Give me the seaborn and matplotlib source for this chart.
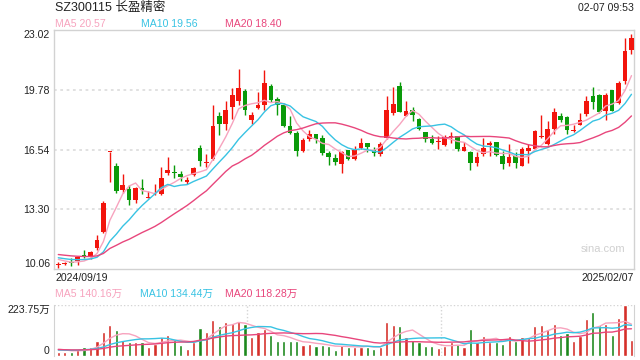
import matplotlib
matplotlib.use("Agg")
from matplotlib import pyplot as plt
import numpy as np
import pandas as pd
import seaborn as sns

# 日K数据 2024/09/19 - 2025/02/07
opens = [10.27, 10.31, 10.40, 10.47, 10.82, 10.69, 11.20, 12.07, 16.40, 15.66,
         14.34, 14.40, 13.82, 14.45, 13.93, 14.10, 14.14, 15.27, 15.30, 15.21,
         14.78, 15.18, 16.62, 15.82, 16.04, 18.34, 17.94, 18.84, 19.19, 19.71,
         18.16, 18.79, 18.97, 19.97, 19.28, 18.93, 17.81, 17.43, 16.44, 17.11,
         17.38, 17.16, 16.35, 16.08, 15.75, 16.51, 16.04, 16.62, 16.87, 16.51,
         16.31, 17.16, 18.52, 19.98, 18.37, 18.68, 18.19, 17.49, 17.09, 16.94,
         16.80, 17.20, 17.25, 16.48, 16.40, 15.81, 16.30, 16.77, 16.95, 16.19,
         15.81, 16.17, 15.66, 16.48, 16.58, 17.23, 16.86, 17.67, 18.34, 18.28,
         17.56, 17.89, 18.46, 19.44, 19.49, 18.61, 19.77, 19.06, 20.24, 21.95]
highs = [10.45, 10.42, 10.66, 10.75, 11.11, 11.05, 11.89, 13.77, 16.42, 15.81,
         15.21, 14.63, 14.49, 14.94, 14.27, 14.69, 15.57, 16.13, 15.72, 15.36,
         15.05, 15.60, 16.77, 16.29, 18.97, 18.57, 19.19, 19.87, 20.92, 19.84,
         18.57, 19.66, 20.85, 20.11, 19.37, 19.04, 18.34, 17.56, 17.16, 17.60,
         17.40, 17.34, 16.48, 16.30, 16.48, 16.52, 16.71, 17.16, 16.88, 16.67,
         16.95, 19.44, 19.93, 20.20, 19.15, 18.86, 18.25, 17.50, 17.34, 17.29,
         17.31, 17.51, 17.29, 16.95, 16.44, 16.40, 17.16, 16.98, 16.96, 16.44,
         16.84, 16.40, 16.66, 16.84, 17.61, 18.43, 18.10, 18.79, 18.52, 18.34,
         17.89, 18.52, 19.46, 19.93, 19.55, 19.59, 19.78, 20.27, 22.59, 22.80]
lows = [10.10, 10.25, 10.20, 10.26, 10.66, 10.62, 11.11, 12.02, 14.78, 14.18,
        14.18, 13.51, 13.64, 14.13, 13.91, 14.09, 14.09, 15.14, 14.99, 14.85,
        14.67, 15.08, 15.63, 15.57, 15.99, 17.34, 17.61, 18.21, 18.93, 18.39,
        17.92, 18.72, 18.70, 19.12, 18.43, 17.74, 17.38, 16.19, 16.40, 16.98,
        16.87, 16.26, 15.68, 15.72, 15.28, 15.97, 15.97, 16.58, 16.40, 16.17,
        16.17, 17.11, 18.39, 18.57, 18.34, 18.10, 17.61, 16.96, 16.84, 16.58,
        16.71, 16.89, 16.46, 16.44, 15.45, 15.66, 16.19, 16.17, 16.19, 15.50,
        15.66, 15.54, 15.63, 15.81, 16.55, 17.16, 16.80, 17.38, 18.03, 17.38,
        17.49, 17.85, 18.34, 18.75, 18.52, 18.16, 18.61, 19.01, 20.09, 21.74]
closes = [10.30, 10.33, 10.37, 10.69, 10.78, 10.98, 11.65, 13.64, 16.42, 14.31,
          14.63, 13.80, 14.45, 14.36, 13.96, 14.14, 14.99, 15.43, 15.27, 15.03,
          14.90, 15.54, 15.90, 15.85, 17.80, 17.92, 18.66, 19.49, 19.86, 18.70,
          18.39, 18.95, 20.15, 19.22, 18.97, 17.83, 17.43, 16.44, 17.07, 17.38,
          17.13, 16.35, 16.13, 15.86, 16.40, 16.04, 16.51, 16.87, 16.69, 16.37,
          16.84, 18.68, 19.01, 18.59, 18.61, 18.39, 17.67, 17.13, 16.91, 16.97,
          17.20, 17.23, 16.58, 16.67, 15.83, 16.13, 16.60, 16.89, 16.26, 15.75,
          16.13, 15.81, 16.58, 16.62, 17.52, 17.26, 17.65, 18.57, 18.14, 17.61,
          17.59, 18.14, 19.19, 19.12, 18.57, 19.48, 18.65, 20.15, 21.86, 22.59]
# 成交量(万手)
volumes = [15.2, 15.2, 15.2, 27.4, 38.1, 38.1, 65.4, 103.5, 133.9, 111.1,
           70.0, 60.9, 57.8, 57.8, 39.6, 50.2, 83.7, 91.3, 68.5, 47.2,
           28.9, 59.4, 123.3, 102.0, 156.8, 129.4, 147.6, 144.6, 153.7, 141.5,
           83.7, 102.0, 118.7, 91.3, 62.4, 65.4, 62.4, 65.4, 48.7, 51.7,
           42.6, 47.2, 42.6, 24.4, 47.2, 39.6, 39.6, 39.6, 39.6, 30.4,
           39.6, 147.6, 133.9, 129.4, 83.7, 70.0, 57.8, 42.6, 42.6, 33.5,
           42.6, 57.8, 51.7, 38.1, 115.7, 60.9, 88.3, 57.8, 57.8, 51.7,
           88.3, 62.4, 83.7, 83.7, 129.4, 133.9, 118.7, 138.5, 92.8, 100.5,
           65.4, 88.3, 161.3, 193.3, 133.9, 141.5, 92.8, 165.9, 223.75, 70.0]
# 区间之前的数据(估计, 只用于均线起点)
prev_closes = [11.10, 11.05, 11.15, 11.00, 10.98, 11.05, 10.95, 11.00, 10.92, 11.00,
               10.85, 10.80, 10.75, 10.72, 10.68, 10.75, 10.70, 10.60, 10.55]
prev_volumes = [30, 28, 32, 26, 29, 31, 27, 25, 30, 28,
                20, 18, 22, 19, 21, 30, 35, 28, 32]

price_ticks = [10.06, 13.30, 16.54, 19.78, 23.02]
vol_max = 223.75
start_date, end_date = '2024/09/19', '2025/02/07'

RED = '#f2140c'
GREEN = '#0a9a0a'
C_MA5 = '#f7a3be'
C_MA10 = '#38c3e3'
C_MA20 = '#e8467c'

df = pd.DataFrame({'idx': np.arange(len(closes)), 'open': opens, 'high': highs,
                   'low': lows, 'close': closes, 'vol': volumes})
df['dir'] = np.where(df['close'] >= df['open'], 'up', 'down')
full_c = pd.Series(prev_closes + closes)
full_v = pd.Series(prev_volumes + volumes)
n0 = len(prev_closes)
for w in (5, 10, 20):
    df[f'ma{w}'] = full_c.rolling(w).mean().values[n0:]
    df[f'vma{w}'] = full_v.rolling(w).mean().values[n0:]

sns.set_style('white')
plt.rcParams['font.family'] = ['Liberation Sans', 'Noto Sans CJK SC', 'DejaVu Sans']

W, H = 640, 360
fig = plt.figure(figsize=(6.4, 3.6), dpi=100)
ax = fig.add_axes([54 / W, 1 - 269 / H, 580 / W, 239 / H])
axv = fig.add_axes([54 / W, 1 - 355.5 / H, 580 / W, 50.5 / H])

# 主图 K 线
colors = [RED if d == 'up' else GREEN for d in df['dir']]
ax.vlines(df['idx'], df['low'], df['high'], colors=colors, lw=1.0, zorder=2)
body = (df['close'] - df['open']).abs().clip(lower=0.05)
ax.bar(df['idx'], body, bottom=df[['open', 'close']].min(axis=1), width=0.72,
       color=colors, linewidth=0, zorder=3)
for col, c in (('ma5', C_MA5), ('ma10', C_MA10), ('ma20', C_MA20)):
    sns.lineplot(data=df, x='idx', y=col, ax=ax, color=c, lw=1.0, zorder=4)

for v in price_ticks[1:-1]:
    ax.axhline(v, color='#dedede', lw=1.3, ls=(0, (1.5, 2)), zorder=0)
ax.set_xlim(-0.67, 89.39)
ax.set_ylim(price_ticks[0], price_ticks[-1])
ax.set_yticks(price_ticks)
ax.set_yticklabels([f'{v:.2f}' for v in price_ticks], fontsize=7.6, color='#222222')
ax.tick_params(axis='y', length=0, pad=3)
ax.set_xticks([])
ax.set_xlabel('')
ax.set_ylabel('')
labs = ax.get_yticklabels()
labs[0].set_va('bottom')
labs[-1].set_va('top')
for s in ax.spines.values():
    s.set_color('#d2d2d2')
    s.set_linewidth(1)
ax.text(0.985, 0.085, 'sina.com', transform=ax.transAxes, ha='right', va='center',
        fontsize=8, color='#d0d0d0')

# 成交量
sns.barplot(data=df, x='idx', y='vol', hue='dir', palette={'up': RED, 'down': GREEN},
            dodge=False, width=0.5, errorbar=None, legend=False, ax=axv, zorder=2)
for col, c in (('vma5', C_MA5), ('vma10', C_MA10), ('vma20', C_MA20)):
    axv.plot(df['idx'], df[col], color=c, lw=1.0, zorder=4)
axv.set_xlim(-0.67, 89.39)
axv.set_ylim(0, vol_max)
axv.axhline(vol_max, color='#d5d5d5', lw=1, ls=(0, (1, 1.5)), zorder=0)
for f in (1 / 3, 2 / 3):
    axv.axvline(-0.67 + f * 90.06, color='#d5d5d5', lw=1, ls=(0, (1, 1.5)), zorder=0)
axv.set_yticks([0, vol_max])
axv.set_yticklabels(['0', f'{vol_max:.2f}万'], fontsize=7.6, color='#222222')
axv.get_yticklabels()[0].set_va('bottom')
axv.get_yticklabels()[1].set_va('top')
axv.tick_params(axis='y', length=0, pad=3)
axv.set_xticks([])
axv.set_xlabel('')
axv.set_ylabel('')
axv.spines['top'].set_visible(False)
axv.spines['bottom'].set_visible(False)
for s in ('left', 'right'):
    axv.spines[s].set_color('#d2d2d2')

def ftext(x, y, s, **kw):
    fig.text(x / W, 1 - y / H, s, va='center', **kw)

ftext(55, 8, 'SZ300115 长盈精密', fontsize=9, color='#222222')
ftext(634, 8, '02-07 09:53', fontsize=7.6, color='#222222', ha='right')
ftext(55, 24, 'MA5 20.57', fontsize=7.6, color=C_MA5)
ftext(141, 24, 'MA10 19.56', fontsize=7.6, color=C_MA10)
ftext(225, 24, 'MA20 18.40', fontsize=7.6, color=C_MA20)
ftext(55, 278, start_date, fontsize=7.6, color='#222222')
ftext(634, 278, end_date, fontsize=7.6, color='#222222', ha='right')
ftext(55, 294, 'MA5 140.16万', fontsize=7.6, color=C_MA5)
ftext(140, 294, 'MA10 134.44万', fontsize=7.6, color=C_MA10)
ftext(225, 294, 'MA20 118.28万', fontsize=7.6, color=C_MA20)

plt.savefig('out.png', dpi=100)
